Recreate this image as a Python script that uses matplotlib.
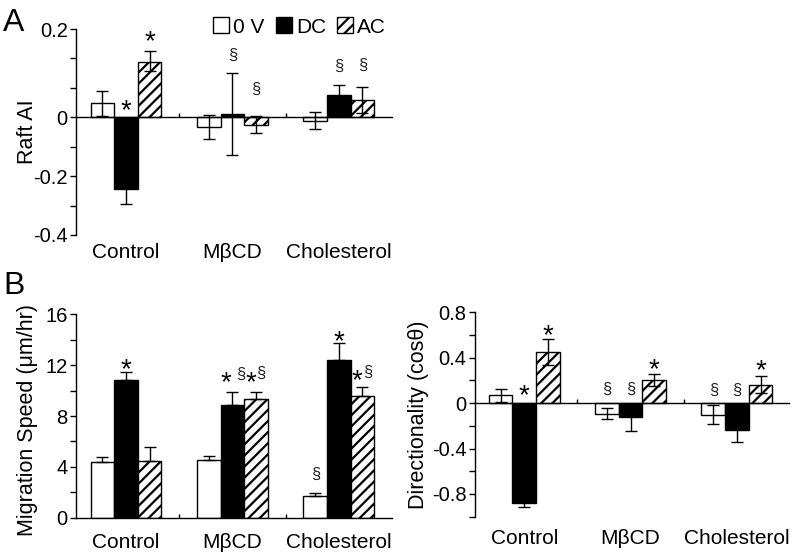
import numpy as np
import matplotlib
matplotlib.use('Agg')
import matplotlib.pyplot as plt
from matplotlib.patches import Patch
import matplotlib.transforms as mtransforms

plt.rcParams['font.family'] = ['Liberation Sans', 'DejaVu Sans']
plt.rcParams['hatch.linewidth'] = 1.6
plt.rcParams['hatch.color'] = 'black'

# ---------------- data ----------------
groups = ['Control', 'MβCD', 'Cholesterol']
series = ['0 V', 'DC', 'AC']

# Panel A: Raft AI (rows = series 0V, DC, AC; cols = groups)
raft_ai = [[0.032, -0.033, -0.011],
           [-0.245, 0.008, 0.050],
           [0.126, -0.026, 0.039]]
raft_err_lo = [[0.028, 0.042, 0.029],
               [0.051, 0.135, 0.024],
               [0.022, 0.028, 0.029]]
raft_err_hi = [[0.028, 0.038, 0.023],
               [0.051, 0.093, 0.024],
               [0.024, 0.029, 0.029]]

# Panel B left: migration speed (um/hr)
speed = [[4.40, 4.53, 1.68],
         [10.82, 8.83, 12.42],
         [4.48, 9.30, 9.59]]
speed_err = [[0.34, 0.32, 0.26],
             [0.66, 1.05, 1.31],
             [1.12, 0.60, 0.73]]

# Panel B right: directionality (cos theta)
direc = [[0.070, -0.094, -0.100],
         [-0.883, -0.126, -0.238],
         [0.454, 0.205, 0.161]]
direc_err = [[0.056, 0.050, 0.085],
             [0.030, 0.120, 0.100],
             [0.114, 0.055, 0.076]]

# significance marks: (group, series, text)
raft_marks = [(0, 1, '*'), (0, 2, '*'), (1, 1, '§'), (1, 2, '§'), (2, 1, '§'), (2, 2, '§')]
speed_marks = [(0, 1, '*'), (1, 1, '* §'), (1, 2, '*§'), (2, 0, '§'), (2, 1, '*'), (2, 2, '*§')]
direc_marks = [(0, 1, '*'), (0, 2, '*'), (1, 0, '§'), (1, 1, '§'), (1, 2, '*'),
               (2, 0, '§'), (2, 1, '§'), (2, 2, '*')]

# ---------------- layout ----------------
W, H = 793, 556
fig = plt.figure(figsize=(W / 100, H / 100), dpi=100)

raft_up = [15, 17.7, 16.7, 26.7, 18.3, 21.3]
speed_up = [11, 18, 18, 18, 10, 14]
direc_up = [16, 11.7, 14, 14, 12.7, 13, 13, 14]

BW = 0.222
face = ['white', 'black', 'white']
hatches = [None, None, '///']
STAR_SIZE = 20
SEC_SIZE = 12


def px_rect(l, t, r, b):
    return [l / W, 1 - b / H, (r - l) / W, (b - t) / H]


def style_axes(ax):
    for s in ['top', 'right']:
        ax.spines[s].set_visible(False)
    ax.spines['left'].set_linewidth(1.0)
    ax.spines['bottom'].set_linewidth(1.0)
    ax.spines['bottom'].set_position(('data', 0))
    ax.tick_params(axis='y', which='both', direction='out', length=4, width=1.0,
                   labelsize=14.5, pad=2)
    ax.set_xticks([0.5, 1.5])
    ax.tick_params(axis='x', direction='in', length=3, width=1.0, labelbottom=False)


def draw_bars(ax, vals, err_lo, err_hi):
    for s in range(3):
        x = np.arange(3) + (s - 1) * BW
        ax.bar(x, vals[s], width=BW, color=face[s], edgecolor='black', linewidth=1.0,
               hatch=hatches[s], zorder=2)
        ax.errorbar(x, vals[s], yerr=[err_lo[s], err_hi[s]], fmt='none', ecolor='black',
                    elinewidth=1.0, capsize=4, capthick=1.0, zorder=3)


def draw_marks(ax, vals, err_hi, marks, ups):
    for (g, s, txt), up in zip(marks, ups):
        x = g + (s - 1) * BW
        anchor = max(vals[s][g] + err_hi[s][g], 0)
        chars = [c for c in txt if c != ' ']
        if len(chars) == 1:
            dxs = [0]
        elif ' ' in txt:
            dxs = [-7, 8]
        else:
            dxs = [-5.5, 5]
        for c, dx in zip(chars, dxs):
            if c == '*':
                size, k, col = STAR_SIZE, 0.58, 'black'
            else:
                size, k, col = SEC_SIZE, 0.26, '#222222'
            em = size * 100 / 72
            dy = (up - k * em) * 0.72
            ax.annotate(c, (x, anchor), xytext=(dx * 0.72, dy), textcoords='offset points',
                        ha='center', va='baseline', fontsize=size, color=col, zorder=4)


def cat_labels(ax, ypx):
    tr = mtransforms.blended_transform_factory(ax.transData, fig.transFigure)
    for i, g in enumerate(groups):
        ax.text(i, 1 - ypx / H, g, transform=tr, ha='center', va='center', fontsize=15)


# ---- Panel A ----
axA = fig.add_axes(px_rect(76, 29, 392, 235))


def fwd(y):
    y = np.asarray(y, dtype=float)
    return np.where(y > 0, y * 1.5, y)


def inv(y):
    y = np.asarray(y, dtype=float)
    return np.where(y > 0, y / 1.5, y)


axA.set_yscale('function', functions=(fwd, inv))
draw_bars(axA, raft_ai, raft_err_lo, raft_err_hi)
axA.set_xlim(-0.47, 2.50)
axA.set_ylim(-0.4, 0.2)
axA.set_yticks([-0.4, -0.2, 0, 0.2])
axA.set_yticklabels(['-0.4', '-0.2', '0', '0.2'])
axA.set_yticks([-0.3, -0.1, 1 / 15, 2 / 15], minor=True)
axA.yaxis.set_minor_formatter(matplotlib.ticker.NullFormatter())
style_axes(axA)
axA.set_ylabel('Raft AI', fontsize=15.5, va='center')
axA.yaxis.set_label_coords(-0.155, 0.5)
draw_marks(axA, raft_ai, raft_err_hi, raft_marks, raft_up)
cat_labels(axA, 252)

# ---- Panel B left ----
axB = fig.add_axes(px_rect(76, 314.3, 392, 517.7))
draw_bars(axB, speed, [[0, 0, 0]] * 3, speed_err)
axB.set_xlim(-0.47, 2.50)
axB.set_ylim(0, 16)
axB.set_yticks([0, 4, 8, 12, 16])
axB.set_yticklabels(['0', '4', '8', '12', '16'])
axB.set_yticks([2, 6, 10, 14], minor=True)
style_axes(axB)
axB.set_ylabel('Migration Speed (μm/hr)', fontsize=15.5, va='center')
axB.yaxis.set_label_coords(-0.152, 0.48)
draw_marks(axB, speed, speed_err, speed_marks, speed_up)
cat_labels(axB, 543)

# ---- Panel B right ----
axC = fig.add_axes(px_rect(475, 312.3, 789, 516.7))
draw_bars(axC, direc, direc_err, direc_err)
axC.set_xlim(-0.463, 2.49)
axC.set_ylim(-1.0, 0.8)
axC.set_yticks([-0.8, -0.4, 0, 0.4, 0.8])
axC.set_yticklabels(['-0.8', '-0.4', '0', '0.4', '0.8'])
axC.set_yticks([-1.0, -0.6, -0.2, 0.2, 0.6], minor=True)
style_axes(axC)
axC.set_ylabel('Directionality (cosθ)', fontsize=15.5, va='center')
axC.yaxis.set_label_coords(-0.18, 0.5)
draw_marks(axC, direc, direc_err, direc_marks, direc_up)
cat_labels(axC, 538)

# ---- panel letters ----
fig.text(14 / W, 1 - 23 / H, 'A', fontsize=23, ha='center', va='center')
fig.text(14 / W, 1 - 286 / H, 'B', fontsize=23, ha='center', va='center')

# ---- legend ----
handles = [Patch(facecolor='white', edgecolor='black', linewidth=1.0),
           Patch(facecolor='black', edgecolor='black', linewidth=1.0),
           Patch(facecolor='white', edgecolor='black', linewidth=1.0, hatch='///')]
fig.legend(handles, series, loc='center left', bbox_to_anchor=(213 / W, 1 - 27 / H),
           ncol=3, frameon=False, fontsize=15, handlelength=0.77, handleheight=0.77,
           handletextpad=0.2, columnspacing=0.53, borderpad=0, borderaxespad=0)

fig.savefig('out.png', dpi=100)
